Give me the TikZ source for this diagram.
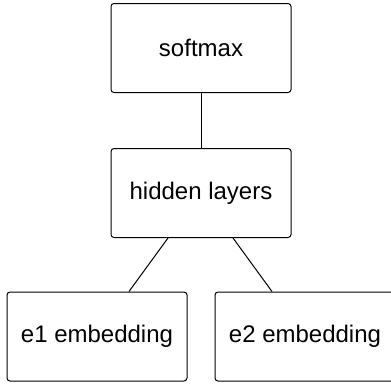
\documentclass[tikz,border=0pt]{standalone}
\usepackage{fontspec}
\setmainfont{Liberation Sans}
\usetikzlibrary{calc}
\begin{document}
\begin{tikzpicture}[x=1pt,y=1pt,
  block/.style={draw=black, line width=1pt, rounded corners=3pt, fill=white,
    minimum width=180pt, minimum height=89pt, inner sep=0pt,
    font=\fontsize{24}{28}\selectfont},
  link/.style={draw=black, line width=1pt}]
  \clip (0,0) rectangle (391,-383);
  \fill[white] (0,0) rectangle (391,-383);
  \node[block] (softmax) at (201,-48)    {softmax};
  \node[block] (hidden)  at (201,-193)   {hidden layers};
  \node[block] (e1)      at (97,-336.5)  {e1 embedding};
  \node[block] (e2)      at (305,-336.5) {e2 embedding};
  \draw[link] (softmax.south) -- (hidden.north);
  \draw[link] ($(hidden.south)+(-33,0)$) -- ($(e1.north)+(32,0)$);
  \draw[link] ($(hidden.south)+(32,0)$) -- ($(e2.north)+(-33,0)$);
\end{tikzpicture}
\end{document}
